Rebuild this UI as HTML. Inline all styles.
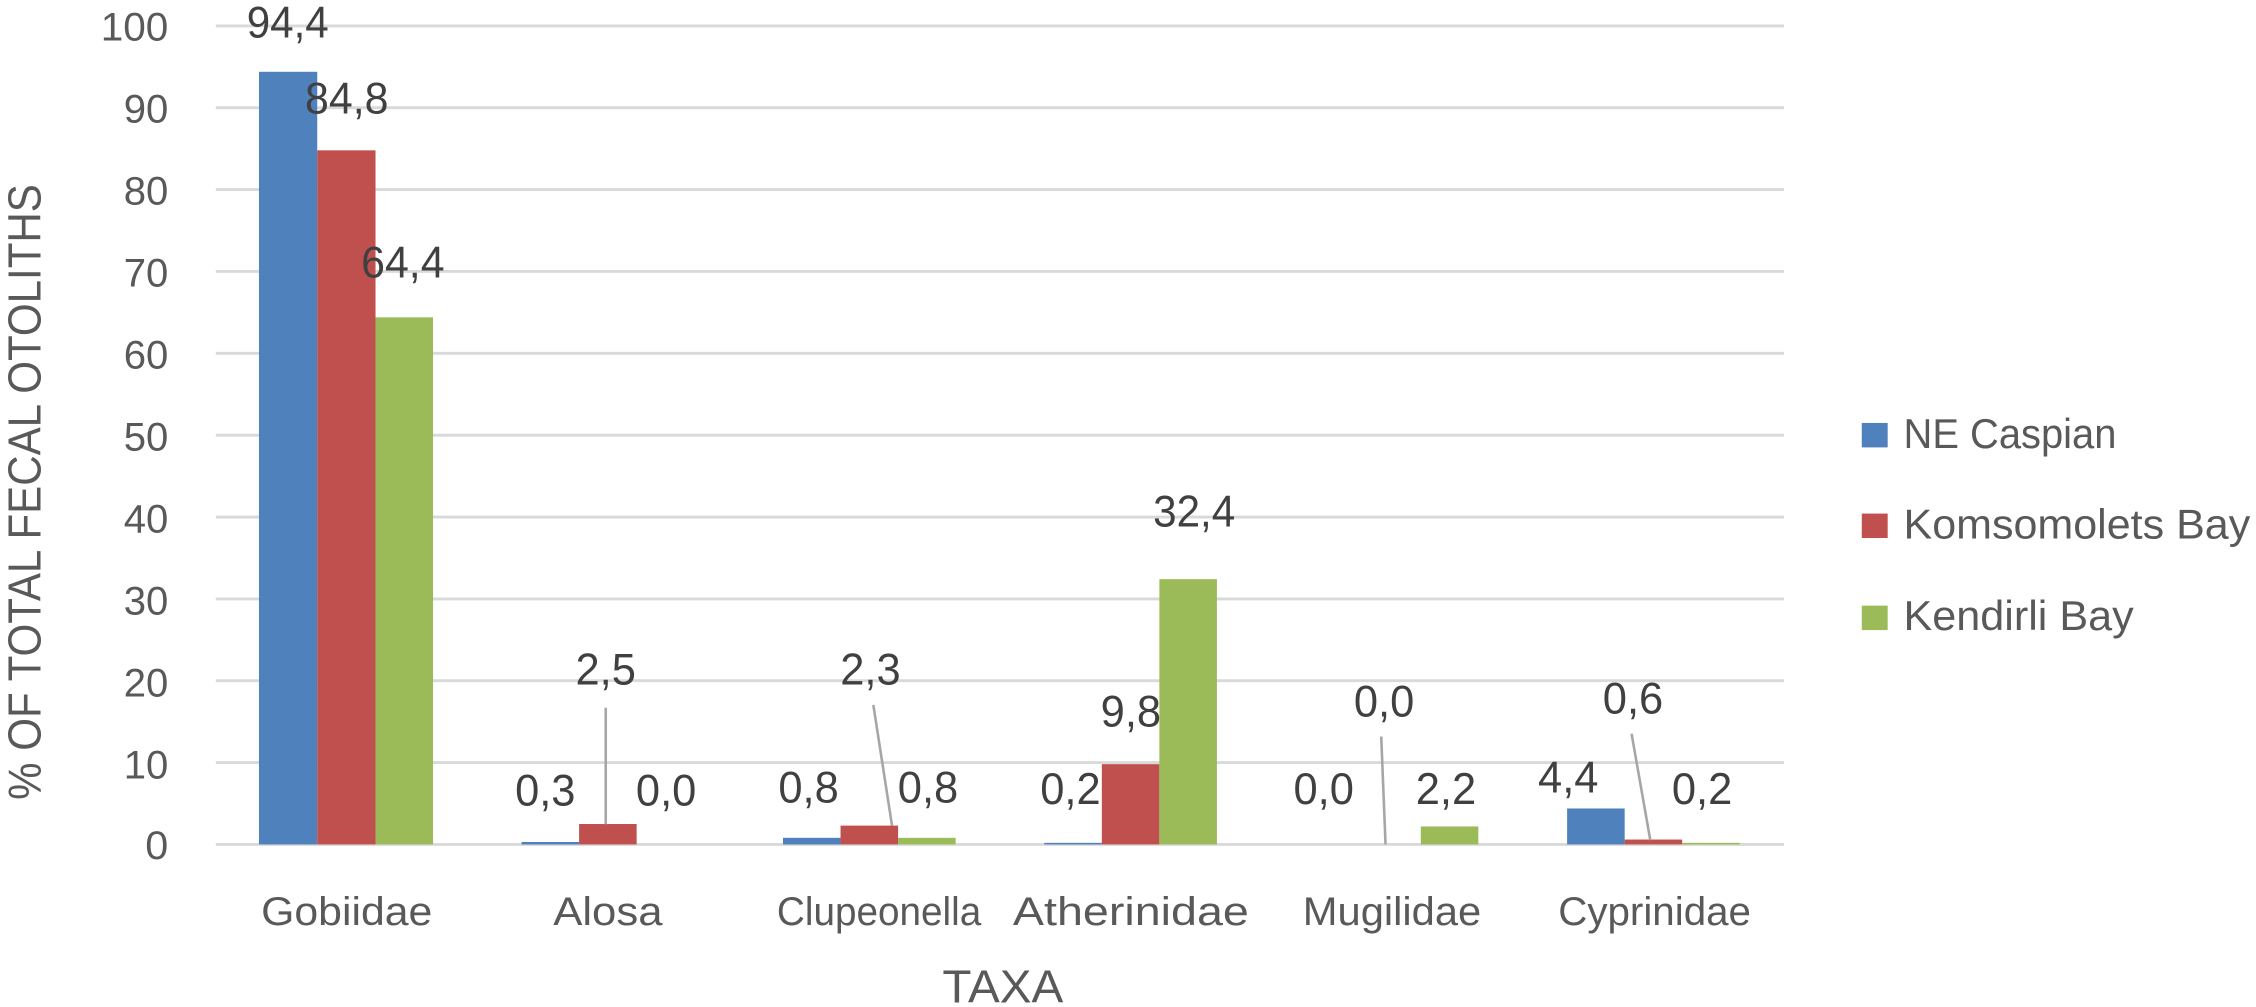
<!DOCTYPE html>
<html><head><meta charset="utf-8"><style>
html,body{margin:0;padding:0;background:#fff;}
svg{display:block;}
text{font-family:"Liberation Sans",sans-serif;fill:#595959;}
.d{fill:#404040;font-size:31px;}
</style></head><body>
<svg width="2256" height="1007" viewBox="0 0 1568 700" preserveAspectRatio="none">
<g stroke="#d9d9d9" stroke-width="2">
<line x1="150" x2="1240" y1="18" y2="18"/>
<line x1="150" x2="1240" y1="74.9" y2="74.9"/>
<line x1="150" x2="1240" y1="131.8" y2="131.8"/>
<line x1="150" x2="1240" y1="188.7" y2="188.7"/>
<line x1="150" x2="1240" y1="245.6" y2="245.6"/>
<line x1="150" x2="1240" y1="302.5" y2="302.5"/>
<line x1="150" x2="1240" y1="359.4" y2="359.4"/>
<line x1="150" x2="1240" y1="416.3" y2="416.3"/>
<line x1="150" x2="1240" y1="473.2" y2="473.2"/>
<line x1="150" x2="1240" y1="530.1" y2="530.1"/>
<line x1="150" x2="1240" y1="587" y2="587"/>
</g>
<g font-size="28" text-anchor="end">
<text x="117" y="28" textLength="47" lengthAdjust="spacingAndGlyphs">100</text>
<text x="117" y="85" textLength="31" lengthAdjust="spacingAndGlyphs">90</text>
<text x="117" y="142" textLength="31" lengthAdjust="spacingAndGlyphs">80</text>
<text x="117" y="199" textLength="31" lengthAdjust="spacingAndGlyphs">70</text>
<text x="117" y="256" textLength="31" lengthAdjust="spacingAndGlyphs">60</text>
<text x="117" y="313" textLength="31" lengthAdjust="spacingAndGlyphs">50</text>
<text x="117" y="370" textLength="31" lengthAdjust="spacingAndGlyphs">40</text>
<text x="117" y="427" textLength="31" lengthAdjust="spacingAndGlyphs">30</text>
<text x="117" y="484" textLength="31" lengthAdjust="spacingAndGlyphs">20</text>
<text x="117" y="541" textLength="31" lengthAdjust="spacingAndGlyphs">10</text>
<text x="117" y="597" textLength="16" lengthAdjust="spacingAndGlyphs">0</text>
</g>
<text transform="translate(28,556) rotate(-90)" font-size="32" textLength="428" lengthAdjust="spacingAndGlyphs">% OF TOTAL FECAL OTOLITHS</text>
<g>
<rect x="180" y="49.9" width="40.5" height="537.1" fill="#4f81bd"/>
<rect x="220.5" y="104.5" width="40.5" height="482.5" fill="#c0504d"/>
<rect x="261" y="220.6" width="40" height="366.4" fill="#9bbb59"/>
<rect x="362.5" y="585.3" width="40" height="1.7" fill="#4f81bd"/>
<rect x="402.5" y="572.8" width="40" height="14.2" fill="#c0504d"/>
<rect x="544.2" y="582.4" width="40" height="4.6" fill="#4f81bd"/>
<rect x="584.2" y="573.9" width="40" height="13.1" fill="#c0504d"/>
<rect x="624.2" y="582.4" width="40" height="4.6" fill="#9bbb59"/>
<rect x="725.8" y="585.9" width="40" height="1.1" fill="#4f81bd"/>
<rect x="765.8" y="531.2" width="40" height="55.8" fill="#c0504d"/>
<rect x="805.8" y="402.6" width="40" height="184.4" fill="#9bbb59"/>
<rect x="987.5" y="574.5" width="40" height="12.5" fill="#9bbb59"/>
<rect x="1089.2" y="562" width="40" height="25" fill="#4f81bd"/>
<rect x="1129.2" y="583.6" width="40" height="3.4" fill="#c0504d"/>
<rect x="1169.2" y="585.9" width="40" height="1.1" fill="#9bbb59"/>
</g>
<g stroke="#a6a6a6" stroke-width="1.8">
<line x1="421" y1="492" x2="421" y2="573"/>
<line x1="607" y1="490" x2="620" y2="574"/>
<line x1="960" y1="512" x2="963" y2="587"/>
<line x1="1134" y1="510" x2="1147" y2="584"/>
</g>
<g text-anchor="middle">
<text class="d" x="200" y="26" textLength="57" lengthAdjust="spacingAndGlyphs">94,4</text>
<text class="d" x="241" y="79" textLength="58" lengthAdjust="spacingAndGlyphs">84,8</text>
<text class="d" x="280" y="193" textLength="58" lengthAdjust="spacingAndGlyphs">64,4</text>
<text class="d" x="379" y="560" textLength="42" lengthAdjust="spacingAndGlyphs">0,3</text>
<text class="d" x="421" y="476" textLength="42" lengthAdjust="spacingAndGlyphs">2,5</text>
<text class="d" x="463" y="560" textLength="42" lengthAdjust="spacingAndGlyphs">0,0</text>
<text class="d" x="562" y="558" textLength="42" lengthAdjust="spacingAndGlyphs">0,8</text>
<text class="d" x="605" y="476" textLength="42" lengthAdjust="spacingAndGlyphs">2,3</text>
<text class="d" x="645" y="558" textLength="42" lengthAdjust="spacingAndGlyphs">0,8</text>
<text class="d" x="744" y="559" textLength="42" lengthAdjust="spacingAndGlyphs">0,2</text>
<text class="d" x="786" y="505" textLength="42" lengthAdjust="spacingAndGlyphs">9,8</text>
<text class="d" x="830" y="366" textLength="57" lengthAdjust="spacingAndGlyphs">32,4</text>
<text class="d" x="920" y="559" textLength="42" lengthAdjust="spacingAndGlyphs">0,0</text>
<text class="d" x="962" y="498" textLength="42" lengthAdjust="spacingAndGlyphs">0,0</text>
<text class="d" x="1005" y="559" textLength="42" lengthAdjust="spacingAndGlyphs">2,2</text>
<text class="d" x="1090" y="551" textLength="42" lengthAdjust="spacingAndGlyphs">4,4</text>
<text class="d" x="1135" y="496" textLength="42" lengthAdjust="spacingAndGlyphs">0,6</text>
<text class="d" x="1183" y="559" textLength="42" lengthAdjust="spacingAndGlyphs">0,2</text>
</g>
<g font-size="28" text-anchor="middle">
<text x="241" y="643" textLength="119" lengthAdjust="spacingAndGlyphs">Gobiidae</text>
<text x="422.5" y="643" textLength="76" lengthAdjust="spacingAndGlyphs">Alosa</text>
<text x="611" y="643" textLength="142" lengthAdjust="spacingAndGlyphs">Clupeonella</text>
<text x="786" y="643" textLength="164" lengthAdjust="spacingAndGlyphs">Atherinidae</text>
<text x="967.5" y="643" textLength="124" lengthAdjust="spacingAndGlyphs">Mugilidae</text>
<text x="1150" y="643" textLength="134" lengthAdjust="spacingAndGlyphs">Cyprinidae</text>
</g>
<text x="697" y="697" font-size="32" text-anchor="middle" textLength="84" lengthAdjust="spacingAndGlyphs">TAXA</text>
<rect x="1294" y="294" width="18" height="17" fill="#4f81bd"/>
<rect x="1294" y="357" width="18" height="17" fill="#c0504d"/>
<rect x="1294" y="421" width="18" height="17" fill="#9bbb59"/>
<g font-size="29">
<text x="1323" y="311.5" textLength="148" lengthAdjust="spacingAndGlyphs">NE Caspian</text>
<text x="1323" y="374.5" textLength="241" lengthAdjust="spacingAndGlyphs">Komsomolets Bay</text>
<text x="1323" y="438" textLength="160" lengthAdjust="spacingAndGlyphs">Kendirli Bay</text>
</g>
</svg>
</body></html>
